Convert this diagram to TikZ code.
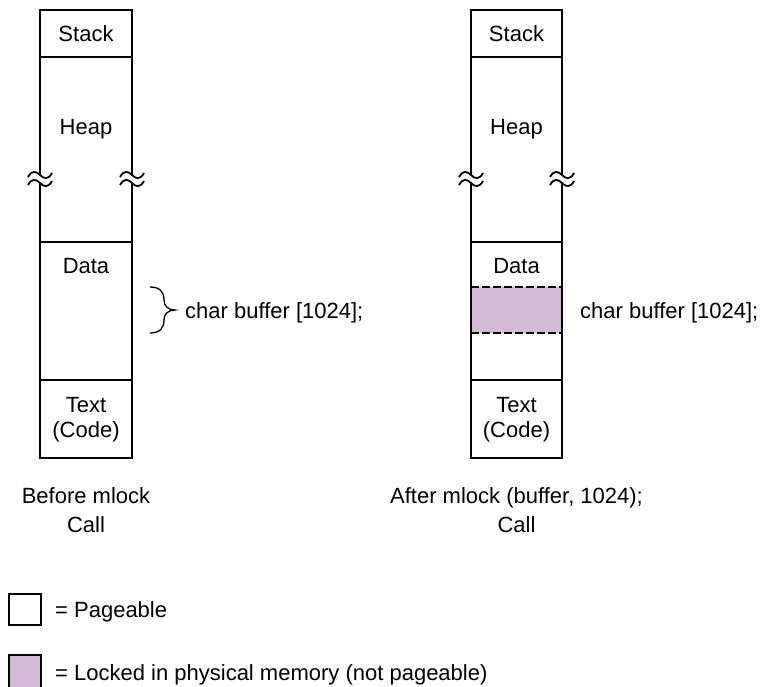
\documentclass[tikz,border=0pt]{standalone}
\usepackage{fontspec}
\setmainfont{Liberation Sans}
\usetikzlibrary{positioning}
\definecolor{lockpurple}{RGB}{212,186,214}

\begin{document}
\begin{tikzpicture}[x=1pt,y=-1pt,
                    lbl/.style={inner sep=0pt,anchor=base,font=\fontsize{22pt}{26pt}\selectfont},
                    frame/.style={line width=2.2pt},
                    divider/.style={line width=1.4pt},
                    lockline/.style={line width=1.4pt,dash pattern=on 8pt off 3pt},
                    keybox/.style={draw,line width=1.8pt,inner sep=0pt,minimum width=32pt}]
\tikzset{wave/.style={line width=1.8pt}}

  \clip (0,0) rectangle (763,686);

        % locked part of the data segment
        \fill[lockpurple] (471,287) rectangle (562,333);

        % the two columns, sides broken inside the heap
        \foreach \xl/\xr in {40/132, 471/562} {
          \draw[frame] (\xl,175) -- (\xl,10) -- (\xr,10) -- (\xr,175);
          \draw[frame] (\xl,183) -- (\xl,458) -- (\xr,458) -- (\xr,183);
          \foreach \xx in {\xl,\xr} {
            \foreach \yy in {175,183}
              \draw[wave] (\xx-12,\yy+2) .. controls (\xx-8,\yy-5) and (\xx-4,\yy-4) .. (\xx,\yy)
                                          .. controls (\xx+4,\yy+4) and (\xx+8,\yy+5) .. (\xx+12,\yy-2);
          }
          \draw[divider] (\xl,57) -- (\xr,57);
          \draw[divider] (\xl,242) -- (\xr,242);
          \draw[divider] (\xl,380) -- (\xr,380);
        }
        \draw[lockline] (471,287) -- (562,287);
        \draw[lockline] (471,333) -- (562,333);

        % before
        \node[lbl]                  (stack0) at (86,41)  {Stack};
        \node[lbl]                  (heap0)  at (86,134) {Heap};
        \node[lbl]                  (data0)  at (86,273) {Data};
        \node[lbl]                  (text0)  at (86,412) {Text};
        \node[lbl,below=9pt of text0.base]  (code0)     {(Code)};
        \node[lbl]                  (cap0)   at (86,503) {Before mlock};
        \node[lbl,below=13pt of cap0.base]  (call0)     {Call};

        \draw[line width=1.3pt] (150,287) .. controls (160,287) and (164,292) .. (164,300)
                                .. controls (164,306) and (168,310) .. (175,310)
                                .. controls (168,310) and (164,314) .. (164,320)
                                .. controls (164,328) and (160,333) .. (150,333);
        \node[lbl,anchor=base west] (buf0)   at (185,318) {char buffer [1024];};

        % after
        \node[lbl]                  (stack1) at (516.5,41)  {Stack};
        \node[lbl]                  (heap1)  at (516.5,134) {Heap};
        \node[lbl]                  (data1)  at (516.5,273) {Data};
        \node[lbl]                  (text1)  at (516.5,412) {Text};
        \node[lbl,below=9pt of text1.base]  (code1)        {(Code)};
        \node[lbl]                  (cap1)   at (516.5,503) {After mlock (buffer, 1024);};
        \node[lbl,below=13pt of cap1.base]  (call1)        {Call};
        \node[lbl,anchor=base west] (buf1)   at (580,318)   {char buffer [1024];};

        % key
        \node[keybox,minimum height=31pt]                 (page) at (25,609.5) {};
        \node[lbl,anchor=base west]                       (pagetxt) at (55,617) {= Pageable};
        \node[keybox,fill=lockpurple,minimum height=36pt] (lock) at (25,673) {};
        \node[lbl,anchor=base west]                       (locktxt) at (55,680) {= Locked in physical memory (not pageable)};

\end{tikzpicture}
\end{document}
